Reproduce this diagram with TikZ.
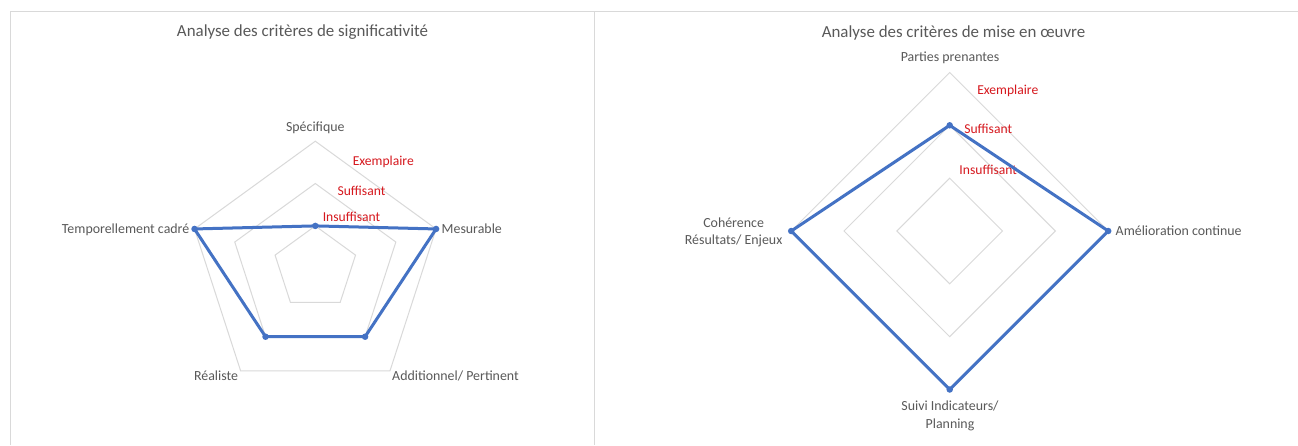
\documentclass[tikz,border=0pt]{standalone}
\usepackage{fontspec}
\setmainfont{Carlito}
\usetikzlibrary{calc}
\definecolor{gridc}{RGB}{217,217,217}
\definecolor{txt}{RGB}{89,89,89}
\definecolor{serie}{RGB}{68,114,196}
\definecolor{lvl}{RGB}{214,24,30}
\begin{document}
\begin{tikzpicture}[x=1pt,y=-1pt,
  lab/.style={text=txt,font=\fontsize{13.9}{16}\selectfont,inner sep=0pt,text height=9.3pt,text depth=0pt},
  lvllab/.style={text=lvl,font=\fontsize{13.6}{16}\selectfont,inner sep=0pt,text height=9.3pt,text depth=0pt},
  ttl/.style={text=txt,font=\fontsize{16.9}{19}\selectfont,inner sep=0pt,text height=11.3pt,text depth=0pt},
  gridline/.style={draw=gridc,line width=1pt},
  frame/.style={draw=gridc,line width=1.3pt},
  serieline/.style={draw=serie,line width=3pt,line join=round},
  dot/.style={circle,fill=serie,inner sep=0pt,minimum size=6.5pt}]
\useasboundingbox (0,0) rectangle (1298,445);
\fill[white] (0,0) rectangle (1298,445);
\draw[frame] (10.5,445) -- (10.5,11.5) -- (1298,11.5);
\draw[frame] (594.3,11.5) -- (594.3,445);

% ---------- left chart ----------
\coordinate (L) at (315.3,268.2);
\foreach \r in {42.3,84.7,127}
  \draw[gridline] ($(L)+(-90:\r)$) -- ($(L)+(-18:\r)$) -- ($(L)+(54:\r)$) -- ($(L)+(126:\r)$) -- ($(L)+(198:\r)$) -- cycle;

\node[ttl] (titleL) at (302.5,31) {Analyse des critères de significativité};
\node[lab] (labS) at (315.3,127) {Spécifique};
\node[lab,anchor=west] (labM) at (441.5,228.7) {Mesurable};
\node[lab,anchor=east] (labT) at (189.5,228.7) {Temporellement cadré};
\node[lab] (labR) at (216,375.7) {Réaliste};
\node[lab] (labA) at (455.5,375.7) {Additionnel/ Pertinent};
\node[lvllab] (exL) at (383.3,161) {Exemplaire};
\node[lvllab] (suL) at (361.5,190.7) {Suffisant};
\node[lvllab] (inL) at (351.5,217.3) {Insuffisant};

\coordinate (pS) at ($(L)+(-90:42.3)$);
\coordinate (pM) at ($(L)+(-18:127)$);
\coordinate (pA) at ($(L)+(54:84.7)$);
\coordinate (pR) at ($(L)+(126:84.7)$);
\coordinate (pT) at ($(L)+(198:127)$);
\draw[serieline] (pS) -- (pM) -- (pA) -- (pR) -- (pT) -- cycle;
\foreach \p in {pS,pM,pA,pR,pT} \node[dot] (d\p) at (\p) {};

% ---------- right chart ----------
\coordinate (C) at (949.7,231);
\foreach \r in {52.8,105.7,158.5}
  \draw[gridline] ($(C)+(-90:\r)$) -- ($(C)+(0:\r)$) -- ($(C)+(90:\r)$) -- ($(C)+(180:\r)$) -- cycle;

\node[ttl] (titleR) at (953.5,32) {Analyse des critères de mise en œuvre};
\node[lab] (labP) at (950,56.7) {Parties prenantes};
\node[lab,anchor=west] (labAm) at (1115.5,231) {Amélioration continue};
\node[lab] (labC1) at (733.6,222.7) {Cohérence};
\node[lab] (labC2) at (733.6,240) {Résultats/ Enjeux};
\node[lab] (labSu1) at (950,406) {Suivi Indicateurs/};
\node[lab] (labSu2) at (950,424) {Planning};
\node[lvllab] (exR) at (1007.8,89.7) {Exemplaire};
\node[lvllab] (suR) at (988.2,129.3) {Suffisant};
\node[lvllab] (inR) at (988.2,170) {Insuffisant};

\coordinate (qP) at ($(C)+(-90:105.7)$);
\coordinate (qA) at ($(C)+(0:158.5)$);
\coordinate (qS) at ($(C)+(90:158.5)$);
\coordinate (qC) at ($(C)+(180:158.5)$);
\draw[serieline] (qP) -- (qA) -- (qS) -- (qC) -- cycle;
\foreach \p in {qP,qA,qS,qC} \node[dot] (d\p) at (\p) {};
\end{tikzpicture}
\end{document}
